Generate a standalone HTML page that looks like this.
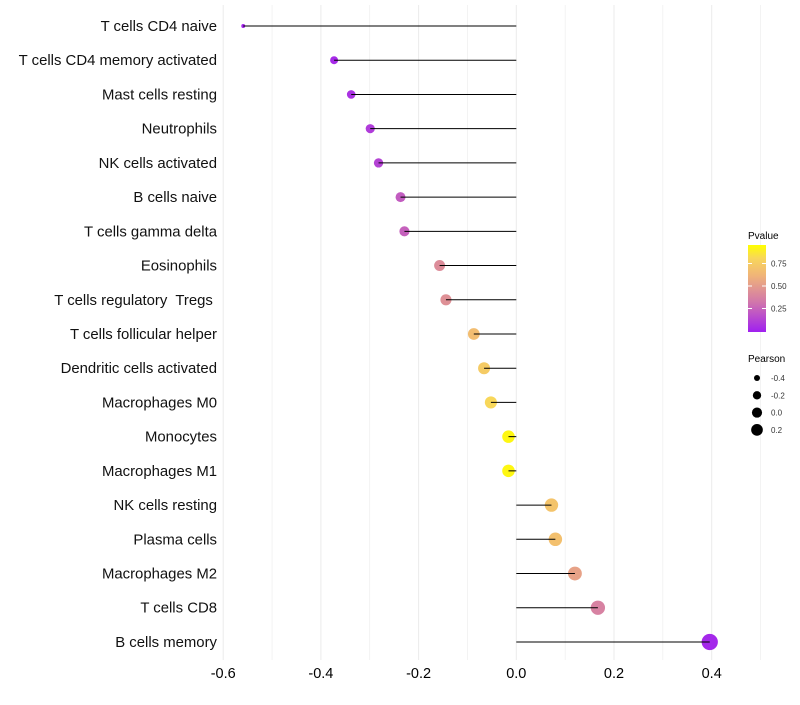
<!DOCTYPE html>
<html><head><meta charset="utf-8"><style>
body{margin:0;background:#fff;font-family:"Liberation Sans",sans-serif}
text{white-space:pre}
</style></head><body>
<svg id="chart" width="800" height="700" xmlns="http://www.w3.org/2000/svg" font-family="Liberation Sans, sans-serif"></svg>
<script>
const categories=["T cells CD4 naive","T cells CD4 memory activated","Mast cells resting","Neutrophils","NK cells activated","B cells naive","T cells gamma delta","Eosinophils","T cells regulatory  Tregs ","T cells follicular helper","Dendritic cells activated","Macrophages M0","Monocytes","Macrophages M1","NK cells resting","Plasma cells","Macrophages M2","T cells CD8","B cells memory"];
const pearson=[-0.559,-0.373,-0.338,-0.299,-0.282,-0.237,-0.229,-0.157,-0.144,-0.087,-0.066,-0.052,-0.016,-0.016,0.072,0.080,0.120,0.167,0.396];
const pvalues=[0.02,0.04,0.07,0.11,0.14,0.24,0.26,0.45,0.47,0.70,0.78,0.85,0.97,0.97,0.74,0.72,0.56,0.40,0.03];
const xTicks=[-0.6,-0.4,-0.2,0.0,0.2,0.4];
const xTickLabels=["-0.6","-0.4","-0.2","0.0","0.2","0.4"];
const pLegendTicks=[0.25,0.5,0.75];
const sizeLegendVals=[-0.4,-0.2,0.0,0.2];

const NS="http://www.w3.org/2000/svg";
const svg=document.getElementById('chart');
function mk(t,a,p){const e=document.createElementNS(NS,t);for(const k in a)e.setAttribute(k,a[k]);(p||svg).appendChild(e);return e;}
const x=v=>516.3+v*488.5;
const y=i=>26+i*34.22;
const stops=[[0,[160,32,240]],[0.35,[210,120,170]],[0.65,[240,180,120]],[0.85,[248,215,90]],[1,[255,255,0]]];
function color(p){for(let i=1;i<stops.length;i++){if(p<=stops[i][0]){const a=stops[i-1],b=stops[i];const t=(p-a[0])/(b[0]-a[0]);return 'rgb('+a[1].map((c,j)=>Math.round(c+(b[1][j]-c)*t)).join(',')+')';}}return 'rgb(255,255,0)';}
const rad=v=>1.12*Math.sqrt(Math.max(2,3+52*(v+0.56)));

for(let k=-6;k<=5;k++){const v=k/10;const g=mk('line',{x1:x(v),x2:x(v),y1:5,y2:660,stroke:'#ebebeb','stroke-width':k%2===0?1:0.6});

}
xTicks.forEach((v,i)=>{const t=mk('text',{x:x(v),y:678,'text-anchor':'middle','font-size':14.5,fill:'#000'});t.textContent=xTickLabels[i];

});
categories.forEach((c,i)=>{
const t=mk('text',{x:217,y:y(i)+5,'text-anchor':'end','font-size':14.9,fill:'#111'});t.textContent=c;


const pt=mk('circle',{cx:x(pearson[i]),cy:y(i),r:rad(pearson[i]),fill:color(pvalues[i])});


const l=mk('line',{x1:x(0),x2:x(pearson[i]),y1:y(i),y2:y(i),stroke:'#000','stroke-width':1});


});
const defs=mk('defs',{});const lg=mk('linearGradient',{id:'pg',x1:0,y1:1,x2:0,y2:0},defs);
stops.forEach(s=>mk('stop',{offset:s[0],'stop-color':'rgb('+s[1].join(',')+')'},lg));
const lt=mk('text',{x:748,y:239,'font-size':10,fill:'#000'});lt.textContent='Pvalue';


const bar=mk('rect',{x:748,y:245,width:18,height:87,fill:'url(#pg)'});


const py=p=>331-p*90;
pLegendTicks.forEach(p=>{mk('line',{x1:748,x2:752,y1:py(p),y2:py(p),stroke:'#fff'});mk('line',{x1:762,x2:766,y1:py(p),y2:py(p),stroke:'#fff'});
const t=mk('text',{x:771,y:py(p)+3,'font-size':8,fill:'#333'});t.textContent=p.toFixed(2);

});
const st=mk('text',{x:748,y:362,'font-size':10,fill:'#000'});st.textContent='Pearson';


sizeLegendVals.forEach((v,i)=>{const cy=378+i*17.3;
const c=mk('circle',{cx:757,cy:cy,r:rad(v)*0.8,fill:'#000'});


const t=mk('text',{x:771,y:cy+3,'font-size':8,fill:'#333'});t.textContent=v.toFixed(1);

});
</script>
</body></html>
